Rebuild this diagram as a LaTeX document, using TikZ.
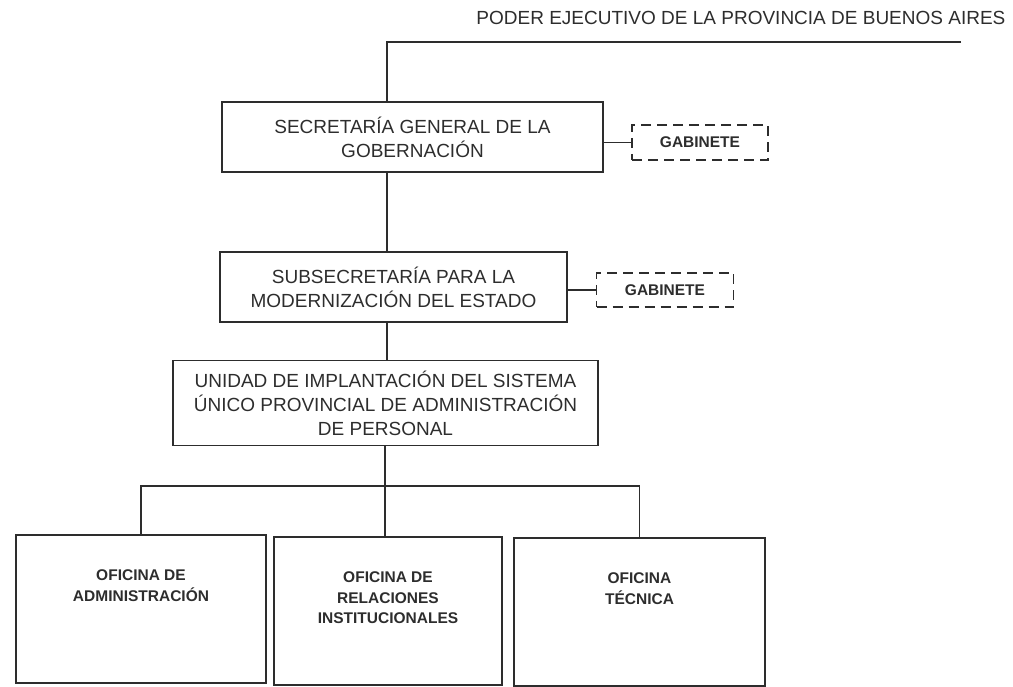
\documentclass[tikz,border=0pt]{standalone}
\usepackage{fontspec}
\setmainfont{Liberation Sans}
\definecolor{ink}{RGB}{45,45,45}

\begin{document}
\begin{tikzpicture}
[   x=1pt,y=-1pt,line width=1.2pt,color=ink,
    box/.style={draw,align=center,inner sep=0pt,font=\fontsize{19}{24}\selectfont},
    gab/.style={draw,dash pattern=on 10pt off 6pt,minimum width=136pt,minimum height=35pt,
        inner sep=0pt,font=\fontsize{15.5}{18}\selectfont\bfseries},
    ofi/.style={draw,minimum height=148pt,inner sep=0pt},
    ofitxt/.style={anchor=north,yshift=-35pt,align=center,inner sep=0pt,
        font=\fontsize{15.5}{20.5}\selectfont\bfseries},
]
    \useasboundingbox (0,0) rectangle (1013,687);
    \node[anchor=base east,inner sep=0pt,font=\fontsize{19}{24}\selectfont] (hdr) at (1006,25)
        {PODER EJECUTIVO DE LA PROVINCIA DE BUENOS AIRES};
    \coordinate (top) at (961,42);
    \coordinate (topl) at (387,42);

    \node[box,minimum width=381pt,minimum height=70pt] (sec) at (412.5,137)
        {SECRETARÍA GENERAL DE LA\\GOBERNACIÓN};
    \node[gab] (gab-1) at (700,142.5) {GABINETE};
    \node[box,minimum width=347pt,minimum height=70pt] (sub) at (393.5,287)
        {SUBSECRETARÍA PARA LA\\MODERNIZACIÓN DEL ESTADO};
    \node[gab,minimum width=137pt,minimum height=34pt] (gab-2) at (665,290) {GABINETE};
    \node[box,minimum width=425pt,minimum height=85pt] (uni) at (385.5,403)
        {UNIDAD DE IMPLANTACIÓN DEL SISTEMA\\ÚNICO PROVINCIAL DE ADMINISTRACIÓN\\DE PERSONAL};

    \node[ofi,minimum width=250pt,label={[ofitxt]north:OFICINA DE\\ADMINISTRACIÓN}] (of-1) at (141,609) {};
    \node[ofi,minimum width=228pt,label={[ofitxt]north:OFICINA DE\\RELACIONES\\INSTITUCIONALES}] (of-2) at (388,611) {};
    \node[ofi,minimum width=251pt,label={[ofitxt]north:OFICINA\\TÉCNICA}] (of-3) at (639.5,612) {};
    \coordinate (bus) at (385,486);

    \draw (top) -- (topl) -- (topl |- sec.north);
    \draw (sec.south -| topl) -- (sub.north -| topl);
    \draw (sub.south -| topl) -- (uni.north -| topl);
    \draw (gab-1.west) -- (gab-1.west -| sec.east);
    \draw (gab-2.west) -- (gab-2.west -| sub.east);
    \draw (uni.south -| bus) -- (bus);
    \draw (of-1.north) |- (bus) -| (of-3.north);
    \draw (bus) -- (of-2.north -| bus);
\end{tikzpicture}
\end{document}
